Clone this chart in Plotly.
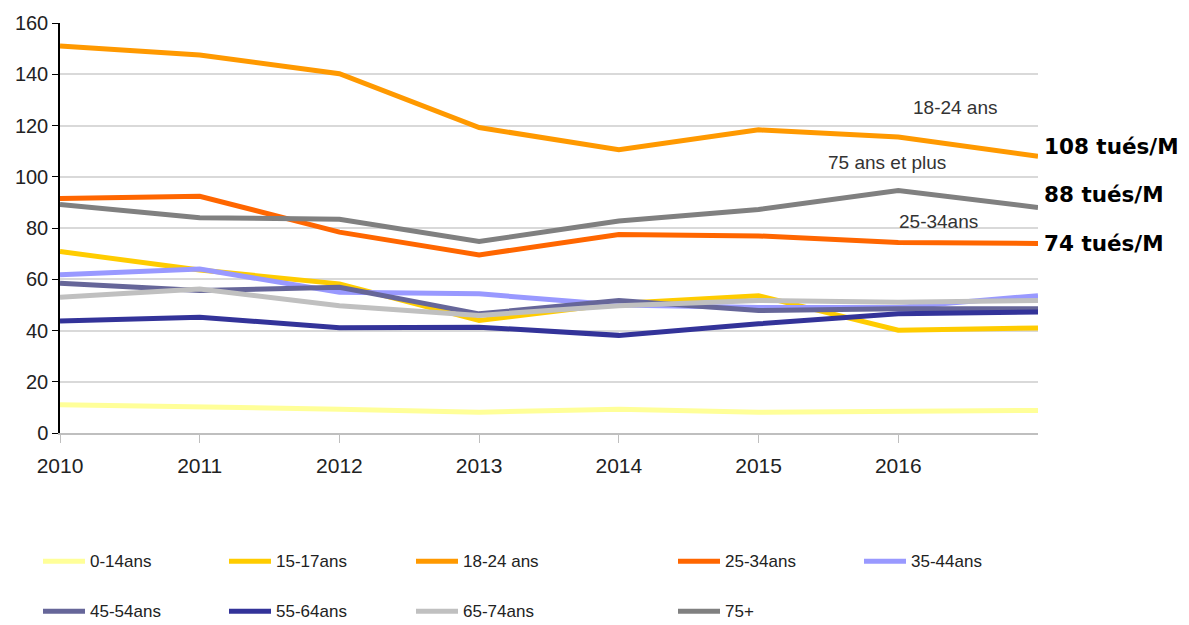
import plotly.graph_objects as go

years = [2010, 2011, 2012, 2013, 2014, 2015, 2016, 2017]
tick_years = [2010, 2011, 2012, 2013, 2014, 2015, 2016]

age_groups = ["0-14ans", "15-17ans", "18-24 ans", "25-34ans", "35-44ans",
              "45-54ans", "55-64ans", "65-74ans", "75+"]

v_0_14 = [11.0, 10.3, 9.3, 8.1, 9.3, 8.1, 8.4, 8.8]
v_15_17 = [70.8, 63.6, 58.2, 43.9, 50.5, 53.6, 40.1, 41.0]
v_18_24 = [151.0, 147.5, 140.2, 119.2, 110.5, 118.3, 115.5, 108.0]
v_25_34 = [91.5, 92.4, 78.4, 69.5, 77.5, 76.9, 74.3, 74.0]
v_35_44 = [61.8, 64.0, 54.9, 54.3, 50.0, 49.0, 49.0, 53.6]
v_45_54 = [58.4, 55.6, 56.9, 46.5, 51.7, 47.8, 48.5, 48.5]
v_55_64 = [43.7, 45.2, 41.1, 41.3, 38.1, 42.6, 46.5, 47.2]
v_65_74 = [53.0, 56.2, 49.7, 45.9, 49.7, 51.7, 51.0, 51.7]
v_75p = [89.2, 84.0, 83.4, 74.7, 82.7, 87.2, 94.6, 88.0]

series = [v_0_14, v_15_17, v_18_24, v_25_34, v_35_44, v_45_54, v_55_64, v_65_74, v_75p]
colors = ["#FFFF99", "#FFCC00", "#FF9900", "#FF6600", "#9999FF",
          "#666699", "#333399", "#C0C0C0", "#808080"]

end_labels = ["108 tués/M", "88 tués/M", "74 tués/M"]
end_values = [v_18_24[-1], v_75p[-1], v_25_34[-1]]
end_shift = [10, 13, 0]

NARROW = "Liberation Sans Narrow, Arial Narrow, Liberation Sans, Arial, sans-serif"

fig = go.Figure()
for name, vals, col in zip(age_groups, series, colors):
    fig.add_trace(go.Scatter(
        x=years, y=vals, mode="lines", name=name,
        line=dict(color=col, width=5), showlegend=False,
        hoverinfo="x+y+name",
    ))

# Inline series names
inline = [("18-24 ans", 2016.41, 127), ("75 ans et plus", 2015.92, 105.5), ("25-34ans", 2016.29, 82.5)]
for txt, xv, yv in inline:
    fig.add_annotation(x=xv, y=yv, text=txt, showarrow=False, xref="x", yref="y",
                       font=dict(family=NARROW, size=19, color="#333333"))

# Final values at the right edge
for txt, yv, sh in zip(end_labels, end_values, end_shift):
    fig.add_annotation(x=1.004, y=yv, xref="paper", yref="y", text="<b>%s</b>" % txt,
                       showarrow=False, xanchor="left", yanchor="middle", yshift=sh,
                       font=dict(family="DejaVu Sans", size=21.5, color="#000000"))

# Legend drawn below the plot, 5 entries per row
plot_w = 978.0
plot_h = 412.0
col_x0 = [43, 229, 416, 678, 864]
row_y = [562, 612]
for i, (name, col) in enumerate(zip(age_groups, colors)):
    r, c = divmod(i, 5)
    x0 = (col_x0[c] - 60) / plot_w
    x1 = (col_x0[c] + 42 - 60) / plot_w
    yp = (433 - row_y[r]) / plot_h
    fig.add_shape(type="line", xref="paper", yref="paper", x0=x0, x1=x1, y0=yp, y1=yp,
                  line=dict(color=col, width=5))
    fig.add_annotation(x=x1 + 3 / plot_w, y=yp, xref="paper", yref="paper", text=name,
                       showarrow=False, xanchor="left", yanchor="middle",
                       font=dict(family=NARROW, size=17, color="#222222"))

fig.update_layout(
    width=1189, height=625,
    margin=dict(l=60, r=151, t=21, b=192),
    paper_bgcolor="white", plot_bgcolor="white",
    showlegend=False,
    xaxis=dict(range=[2010, 2017], tickvals=tick_years, ticktext=[str(y) for y in tick_years],
               showgrid=False, zeroline=False, showline=True, linecolor="#BFBFBF", linewidth=2,
               ticks="outside", ticklen=8, tickcolor="#BFBFBF", tickwidth=1,
               ticklabelstandoff=5,
               tickfont=dict(family=NARROW, size=21, color="#222222")),
    yaxis=dict(range=[0, 160], tickvals=list(range(0, 161, 20)),
               showgrid=True, gridcolor="#D9D9D9", gridwidth=2, zeroline=False,
               showline=True, linecolor="#000000", linewidth=1.5,
               ticks="outside", ticklen=6, tickcolor="#000000",
               tickfont=dict(family=NARROW, size=20, color="#222222")),
)

fig.write_html("out.html")
